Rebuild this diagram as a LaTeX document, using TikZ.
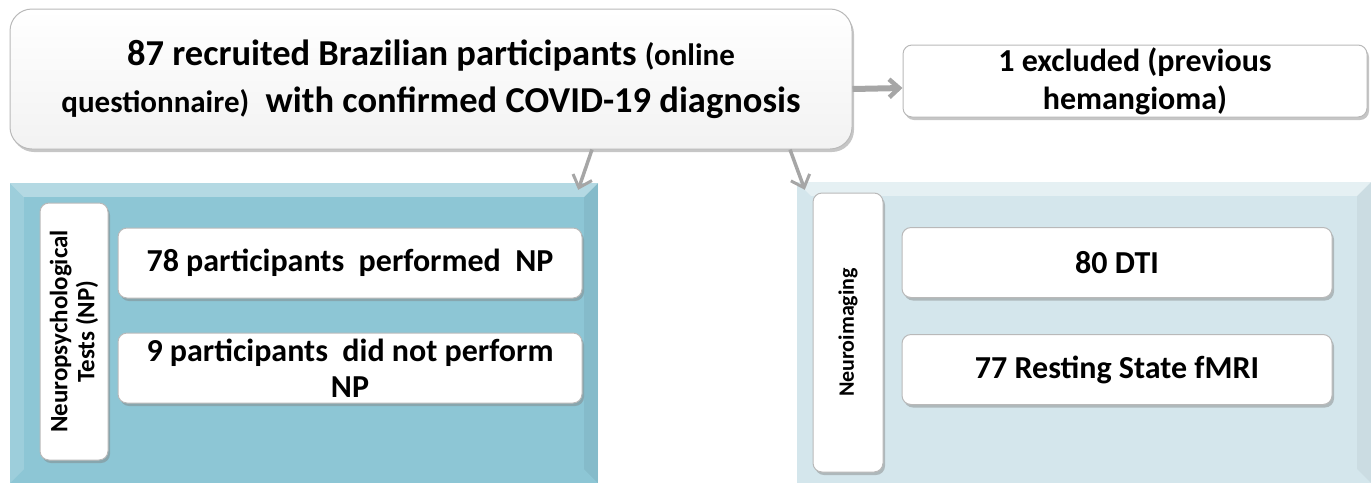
\documentclass[tikz,border=0pt]{standalone}
\usepackage{fontspec}
\setmainfont{Carlito}
\usetikzlibrary{arrows.meta,shadows}

\definecolor{npfill}{HTML}{8DC6D5}
\definecolor{nifill}{HTML}{D4E6EC}
\definecolor{lineg}{HTML}{A6A6A6}

\tikzset{
  boxbase/.style={draw=gray!55, line width=1pt, rounded corners=9pt, fill=white,
    align=center, inner sep=0pt,
    drop shadow={shadow xshift=2pt, shadow yshift=-3pt, opacity=0.45, fill=gray}},
  mainbox/.style={boxbase, rounded corners=22pt, top color=white, bottom color=gray!10,
    minimum width=842pt, minimum height=140pt, font=\fontsize{36.5}{47}\selectfont\bfseries},
  sidebox/.style={boxbase, minimum width=464pt, minimum height=72pt,
    font=\fontsize{32}{38}\selectfont\bfseries},
  itembox/.style={boxbase, minimum height=70pt,
    font=\fontsize{32}{36}\selectfont\bfseries},
  labelbox/.style={boxbase, rotate=90, minimum height=68pt,
    font=\fontsize{25}{27}\selectfont\bfseries},
  panel/.style={inner sep=0pt, draw=none},
  conn/.style={draw=lineg, line width=3.5pt, -{Straight Barb[length=11pt,width=20pt,line width=3pt]}},
  thickconn/.style={conn, line width=6pt, -{Straight Barb[length=10pt,width=18pt,line width=4.5pt]}}
}

\begin{document}
\begin{tikzpicture}[x=1pt,y=-1pt]
        \useasboundingbox (0,0) rectangle (1371,483);

        % Recruited participants
        \node[mainbox] (recruit) at (431,79)
          {87 recruited Brazilian participants {\fontsize{31}{47}\selectfont(online}\\
           {\fontsize{31}{47}\selectfont questionnaire)}\ \ with confirmed COVID-19 diagnosis};

        % Excluded
        \node[sidebox] (excl) at (1135,81) {1 excluded (previous\\hemangioma)};

        % Neuropsychological panel
        \node[panel, fill=npfill, minimum width=588pt, minimum height=300pt] (nptests) at (304,333) {};
        \fill[white, opacity=0.35] (nptests.north west) -- (nptests.north east)
          -- ([shift={(-14pt,-14pt)}]nptests.north east) -- ([shift={(14pt,-14pt)}]nptests.north west) -- cycle;
        \fill[white, opacity=0.15] (nptests.north west) -- ([shift={(14pt,-14pt)}]nptests.north west)
          -- ([shift={(14pt,14pt)}]nptests.south west) -- (nptests.south west) -- cycle;
        \fill[black, opacity=0.05] (nptests.north east) -- ([shift={(-14pt,-14pt)}]nptests.north east)
          -- ([shift={(-14pt,14pt)}]nptests.south east) -- (nptests.south east) -- cycle;
        \node[labelbox, minimum width=257pt] (nplabel) at (74,331.5) {Neuropsychological\\Tests (NP)};
        \node[itembox, minimum width=464pt] (npdone) at (350,263) {78 participants\ \ performed\ \ NP};
        \node[itembox, minimum width=464pt] (npnot) at (350,368)
          {9 participants\ \ did not perform\\NP};

        % Neuroimaging panel
        \node[panel, fill=nifill, minimum width=574pt, minimum height=301pt] (neuroimg) at (1084,332.5) {};
        \fill[white, opacity=0.4] (neuroimg.north west) -- (neuroimg.north east)
          -- ([shift={(-14pt,-14pt)}]neuroimg.north east) -- ([shift={(14pt,-14pt)}]neuroimg.north west) -- cycle;
        \fill[black, opacity=0.04] (neuroimg.north east) -- ([shift={(-14pt,-14pt)}]neuroimg.north east)
          -- ([shift={(-14pt,14pt)}]neuroimg.south east) -- (neuroimg.south east) -- cycle;
        \node[labelbox, minimum width=279pt, minimum height=70pt, font=\fontsize{22}{26}\selectfont\bfseries]
          (nilabel) at (848,332.5) {Neuroimaging};
        \node[itembox, minimum width=430pt] (dti) at (1117,262.5) {80 DTI};
        \node[itembox, minimum width=430pt] (fmri) at (1117,369.5) {77 Resting State fMRI};

        % Connectors
        \draw[thickconn] ([yshift=-10pt]recruit.east) -- ([yshift=-7pt]excl.west);
        \draw[conn] ([xshift=161pt]recruit.south) -- ([shift={(-20pt,-7pt)}]nptests.north east);
        \draw[conn] ([xshift=359pt]recruit.south) -- ([shift={(8pt,-8pt)}]neuroimg.north west);
    \end{tikzpicture}
\end{document}
